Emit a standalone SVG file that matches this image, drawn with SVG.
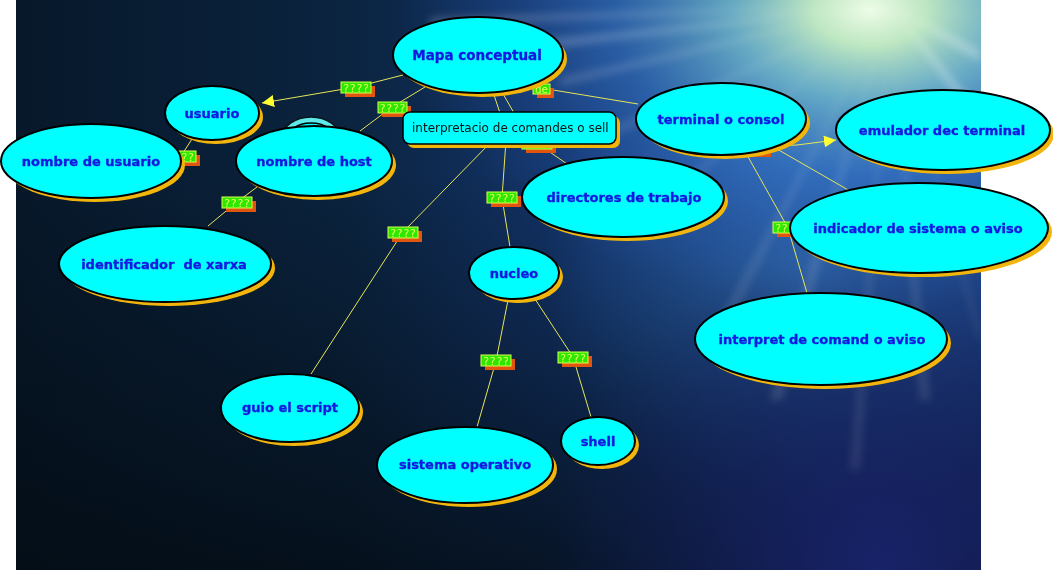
<svg xmlns="http://www.w3.org/2000/svg" width="1053" height="573" viewBox="0 0 1053 573">
<defs>
<linearGradient id="bgBase" x1="16" y1="0" x2="981" y2="0" gradientUnits="userSpaceOnUse">
<stop offset="0" stop-color="#07182a"/>
<stop offset="0.35" stop-color="#0b2440"/>
<stop offset="0.6" stop-color="#143670"/>
<stop offset="1" stop-color="#1c3f8e"/>
</linearGradient>
<linearGradient id="bottomDark" x1="0" y1="0" x2="0" y2="1">
<stop offset="0.3" stop-color="#030a10" stop-opacity="0"/>
<stop offset="1" stop-color="#030a10" stop-opacity="0.75"/>
</linearGradient>
<radialGradient id="glow" cx="0" cy="0" r="1" gradientUnits="userSpaceOnUse" gradientTransform="translate(870,10) scale(470,300)">
<stop offset="0" stop-color="#eefce8" stop-opacity="1"/>
<stop offset="0.12" stop-color="#c6f0c4" stop-opacity="0.95"/>
<stop offset="0.3" stop-color="#7ccad8" stop-opacity="0.75"/>
<stop offset="0.55" stop-color="#3a7ccc" stop-opacity="0.55"/>
<stop offset="0.8" stop-color="#2a5cb0" stop-opacity="0.25"/>
<stop offset="1" stop-color="#2a5cb0" stop-opacity="0"/>
</radialGradient>
<radialGradient id="midBlue" cx="0" cy="0" r="1" gradientUnits="userSpaceOnUse" gradientTransform="translate(810,270) scale(270,250)">
<stop offset="0" stop-color="#4088d8" stop-opacity="0.75"/>
<stop offset="0.6" stop-color="#3070c0" stop-opacity="0.4"/>
<stop offset="1" stop-color="#3070c0" stop-opacity="0"/>
</radialGradient>
<radialGradient id="navy" cx="880" cy="570" r="330" gradientUnits="userSpaceOnUse">
<stop offset="0" stop-color="#19236c" stop-opacity="0.95"/>
<stop offset="1" stop-color="#19236c" stop-opacity="0"/>
</radialGradient>
<filter id="blur" x="-20%" y="-20%" width="140%" height="140%">
<feGaussianBlur stdDeviation="4"/>
</filter>
<clipPath id="bgclip"><rect x="16" y="0" width="965" height="570"/></clipPath>
<marker id="arrow" markerUnits="userSpaceOnUse" markerWidth="14" markerHeight="12" refX="12" refY="6" orient="auto">
<path d="M0,0 L12,6 L0,12 Z" fill="#ffff30"/>
</marker>
<style>
.sh{fill:#f2b50c}
.body{fill:#00ffff;stroke:#000;stroke-width:2}
.node text{font-family:"DejaVu Sans",Verdana,sans-serif;font-weight:bold;font-size:13px;fill:#1418e0;stroke:#1418e0;stroke-width:0.35;text-anchor:middle}
.conn{stroke:#e6e658;stroke-width:1;fill:none}
.ls{fill:#e0560e}
.lb{fill:#2ee800;stroke:#d8ff50;stroke-width:1}
.lbl text{font-family:"DejaVu Sans Mono","Liberation Mono",monospace;font-size:11px;fill:#e4ff60;text-anchor:middle}
.ray{fill:#ffffff}
</style>
</defs>

<rect x="0" y="0" width="1053" height="573" fill="#ffffff"/>
<g id="background" clip-path="url(#bgclip)">
<rect x="16" y="0" width="965" height="570" fill="url(#bgBase)"/>
<rect x="16" y="0" width="965" height="570" fill="url(#midBlue)"/>
<rect x="16" y="0" width="965" height="570" fill="url(#bottomDark)"/>
<rect x="16" y="0" width="965" height="570" fill="url(#navy)"/>
<rect x="16" y="0" width="965" height="570" fill="url(#glow)"/>
<g filter="url(#blur)">
<polygon class="ray" opacity="0.22" points="890,5 430,18 430,26"/>
<polygon class="ray" opacity="0.25" points="890,5 500,45 500,54"/>
<polygon class="ray" opacity="0.18" points="890,5 560,78 560,86"/>
<polygon class="ray" opacity="0.12" points="890,5 610,128 614,136"/>
<polygon class="ray" opacity="0.1" points="890,5 660,200 668,204"/>
<polygon class="ray" opacity="0.12" points="890,5 720,320 730,322"/>
<polygon class="ray" opacity="0.14" points="890,5 770,400 782,400"/>
<polygon class="ray" opacity="0.1" points="890,5 850,470 860,470"/>
<polygon class="ray" opacity="0.12" points="890,5 920,400 930,400"/>
<polygon class="ray" opacity="0.12" points="890,5 980,330 980,345"/>
<polygon class="ray" opacity="0.3" points="890,5 980,110 980,130"/>
<polygon class="ray" opacity="0.3" points="890,5 980,50 980,62"/>
</g>
</g>

<g id="connectors">
<polyline class="conn" points="403,75 356,87 262,103" marker-end="url(#arrow)"/>
<polyline class="conn" points="425,87 392,107 360,131"/>
<polyline class="conn" points="192,139 181,156"/>
<polyline class="conn" points="257,187 237,202 208,226"/>
<polyline class="conn" points="493,140 403,232 311,374"/>
<polyline class="conn" points="506,140 502,198 510,247"/>
<polyline class="conn" points="537,143 567,164"/>
<line class="conn" x1="493" y1="92" x2="500" y2="113"/>
<line class="conn" x1="502" y1="92" x2="514" y2="113"/>
<polyline class="conn" points="530,80 541,88 638,104"/>
<polyline class="conn" points="752,147 797,145 836,140" marker-end="url(#arrow)"/>
<line class="conn" x1="770" y1="145" x2="850" y2="191"/>
<polyline class="conn" points="747,155 788,228 807,293"/>
<polyline class="conn" points="508,300 496,361 477,427"/>
<polyline class="conn" points="535,299 573,357 591,417"/>
</g>

<g id="labels">
<g class="lbl"><rect class="ls" x="345" y="86" width="30" height="11"/><rect class="lb" x="341" y="82" width="30" height="11"/><text x="356" y="92">????</text></g>
<g class="lbl"><rect class="ls" x="382" y="106" width="29" height="11"/><rect class="lb" x="378" y="102" width="29" height="11"/><text x="392.5" y="112">????</text></g>
<g class="lbl"><rect class="ls" x="170" y="155" width="30" height="11"/><rect class="lb" x="166" y="151" width="30" height="11"/><text x="181" y="161">????</text></g>
<g class="lbl"><rect class="ls" x="226" y="201" width="30" height="11"/><rect class="lb" x="222" y="197" width="30" height="11"/><text x="237" y="207">????</text></g>
<g class="lbl"><rect class="ls" x="392" y="231" width="30" height="11"/><rect class="lb" x="388" y="227" width="30" height="11"/><text x="403" y="237">????</text></g>
<g class="lbl"><rect class="ls" x="491" y="196" width="30" height="11"/><rect class="lb" x="487" y="192" width="30" height="11"/><text x="502" y="202">????</text></g>
<g class="lbl"><rect class="ls" x="526" y="142" width="30" height="11"/><rect class="lb" x="522" y="138" width="30" height="11"/><text x="537" y="148">????</text></g>
<g class="lbl"><rect class="ls" x="537" y="88" width="17" height="10"/><rect class="lb" x="533" y="84" width="17" height="10"/><text x="541.5" y="93">de</text></g>
<g class="lbl"><rect class="ls" x="741" y="146" width="30" height="11"/><rect class="lb" x="737" y="142" width="30" height="11"/><text x="752" y="152">????</text></g>
<g class="lbl"><rect class="ls" x="777" y="226" width="30" height="11"/><rect class="lb" x="773" y="222" width="30" height="11"/><text x="788" y="232">????</text></g>
<g class="lbl"><rect class="ls" x="485" y="359" width="30" height="11"/><rect class="lb" x="481" y="355" width="30" height="11"/><text x="496" y="365">????</text></g>
<g class="lbl"><rect class="ls" x="562" y="356" width="30" height="11"/><rect class="lb" x="558" y="352" width="30" height="11"/><text x="573" y="362">????</text></g>
</g>

<g id="hidden-node">
<ellipse cx="311" cy="138" rx="29" ry="21" fill="#5fe8e8" stroke="#08161e" stroke-width="1.5"/>
<ellipse cx="311" cy="141" rx="25" ry="18" fill="#00ffff" stroke="#000" stroke-width="1.5"/>
</g>

<g id="n-mapa" class="node"><ellipse class="sh" cx="482" cy="59" rx="85" ry="38"/><ellipse class="body" cx="478" cy="55" rx="85" ry="38"/><text x="477" y="60" style="font-size:13.5px">Mapa conceptual</text></g>
<g id="n-usuario" class="node"><ellipse class="sh" cx="216" cy="117" rx="47" ry="27"/><ellipse class="body" cx="212" cy="113" rx="47" ry="27"/><text x="212" y="118">usuario</text></g>
<g id="n-nombre-usuario" class="node"><ellipse class="sh" cx="95" cy="165" rx="90" ry="37"/><ellipse class="body" cx="91" cy="161" rx="90" ry="37"/><text x="91" y="166">nombre de usuario</text></g>
<g id="n-nombre-host" class="node"><ellipse class="sh" cx="318" cy="165" rx="78" ry="35"/><ellipse class="body" cx="314" cy="161" rx="78" ry="35"/><text x="314" y="166">nombre de host</text></g>
<g id="n-identificador" class="node"><ellipse class="sh" cx="169" cy="268" rx="106" ry="38"/><ellipse class="body" cx="165" cy="264" rx="106" ry="38"/><text x="164" y="269" xml:space="preserve">identificador  de xarxa</text></g>
<g id="n-terminal" class="node"><ellipse class="sh" cx="725" cy="123" rx="85" ry="36"/><ellipse class="body" cx="721" cy="119" rx="85" ry="36"/><text x="721" y="124">terminal o consol</text></g>
<g id="n-emulador" class="node"><ellipse class="sh" cx="947" cy="134" rx="107" ry="40"/><ellipse class="body" cx="943" cy="130" rx="107" ry="40"/><text x="942" y="135">emulador dec terminal</text></g>
<g id="n-directores" class="node"><ellipse class="sh" cx="627" cy="201" rx="101" ry="40"/><ellipse class="body" cx="623" cy="197" rx="101" ry="40"/><text x="624" y="202">directores de trabajo</text></g>
<g id="n-indicador" class="node"><ellipse class="sh" cx="923" cy="232" rx="129" ry="45"/><ellipse class="body" cx="919" cy="228" rx="129" ry="45"/><text x="918" y="233">indicador de sistema o aviso</text></g>
<g id="n-interpret" class="node"><ellipse class="sh" cx="825" cy="343" rx="126" ry="46"/><ellipse class="body" cx="821" cy="339" rx="126" ry="46"/><text x="822" y="344">interpret de comand o aviso</text></g>
<g id="n-nucleo" class="node"><ellipse class="sh" cx="518" cy="277" rx="45" ry="26"/><ellipse class="body" cx="514" cy="273" rx="45" ry="26"/><text x="514" y="278">nucleo</text></g>
<g id="n-shell" class="node"><ellipse class="sh" cx="602" cy="445" rx="37" ry="24"/><ellipse class="body" cx="598" cy="441" rx="37" ry="24"/><text x="598" y="446">shell</text></g>
<g id="n-sistema" class="node"><ellipse class="sh" cx="469" cy="469" rx="88" ry="38"/><ellipse class="body" cx="465" cy="465" rx="88" ry="38"/><text x="465" y="469">sistema operativo</text></g>
<g id="n-guio" class="node"><ellipse class="sh" cx="294" cy="412" rx="69" ry="34"/><ellipse class="body" cx="290" cy="408" rx="69" ry="34"/><text x="290" y="412">guio el script</text></g>

<g id="n-interpretacio">
<rect x="407" y="116" width="213" height="32" rx="7" fill="#f2b50c"/>
<rect x="403" y="112" width="213" height="32" rx="7" fill="#00ffff" stroke="#000" stroke-width="1.5"/>
<text x="412" y="132" style="font-family:'DejaVu Sans',Verdana,sans-serif;font-size:12px;fill:#111111">interpretacio de comandes o sell</text>
</g>
</svg>
